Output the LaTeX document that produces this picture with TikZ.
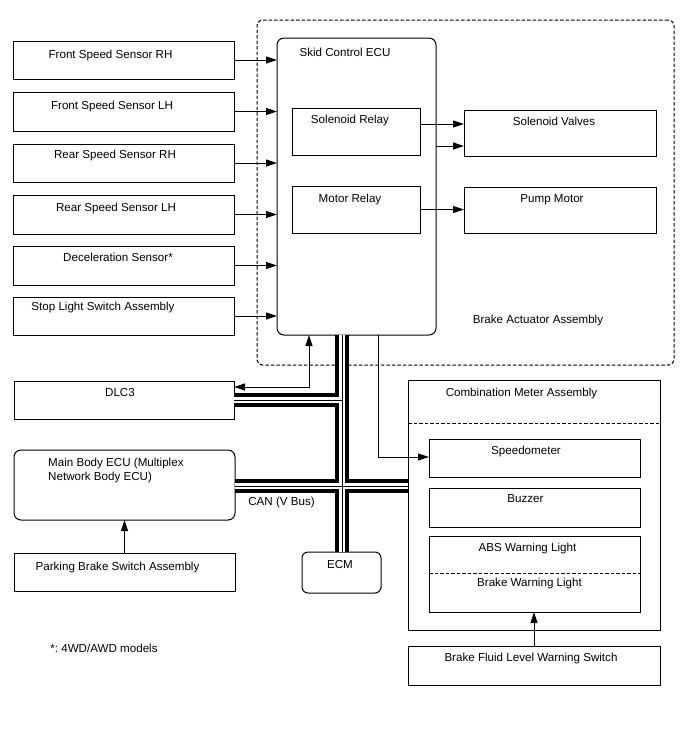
\documentclass[tikz,border=0pt]{standalone}
\usepackage{fontspec}
\setmainfont{Liberation Sans}
\usetikzlibrary{arrows.meta,fit}
\frenchspacing
\begin{document}
\begin{tikzpicture}[x=1pt,y=-1pt,
  box/.style={draw, line width=1pt, inner sep=0pt, outer sep=0pt},
  rbox/.style={box, rounded corners=7pt},
  dbox/.style={draw, line width=1pt, dash pattern=on 3.5pt off 2pt, rounded corners=6pt, inner sep=0pt},
  lbl/.style={anchor=base, inner sep=0pt, font=\fontsize{11.6}{13.5}\selectfont},
  arr/.style={line width=1pt, -{Triangle[length=11pt,width=7pt]}},
  arrb/.style={line width=1pt, {Triangle[length=11pt,width=7pt]}-{Triangle[length=11pt,width=7pt]}},
  dsh/.style={line width=1pt, dash pattern=on 3.5pt off 2pt}]
\fill[white] (0,0) rectangle (688,755);
\useasboundingbox (0,0) rectangle (688,755);

% Brake actuator assembly (dashed)
\node[dbox, fit={(257,20) (674,365)}] (baa) {};
\node[lbl] (baat) at (538,323) {Brake Actuator Assembly};

% Skid control ECU
\node[rbox, fit={(277,38) (436,335)}] (ecu) {};
\node[lbl] (ecut) at (345,56.5) {Skid Control ECU};
\node[box, fit={(292,108) (420,155)}] (sr) {};
\node[lbl] (srt) at (350,123) {Solenoid Relay};
\node[box, fit={(292,186) (420,233)}] (mr) {};
\node[lbl] (mrt) at (350,202) {Motor Relay};

\node[box, fit={(464,110) (656,156)}] (sv) {};
\node[lbl] (svt) at (554,125.5) {Solenoid Valves};
\node[box, fit={(464,187) (656,233)}] (pm) {};
\node[lbl] (pmt) at (552,202) {Pump Motor};

% Left sensors
\node[box, fit={(13,41) (234,79)}] (s1) {};
\node[lbl] (s1t) at (110.5,58) {Front Speed Sensor RH};
\node[box, fit={(13,92) (234,131)}] (s2) {};
\node[lbl] (s2t) at (112,109) {Front Speed Sensor LH};
\node[box, fit={(13,144) (234,182)}] (s3) {};
\node[lbl] (s3t) at (115,158.5) {Rear Speed Sensor RH};
\node[box, fit={(13,195) (234,234)}] (s4) {};
\node[lbl] (s4t) at (116,211) {Rear Speed Sensor LH};
\node[box, fit={(13,246) (234,285)}] (s5) {};
\node[lbl] (s5t) at (118,261) {Deceleration Sensor*};
\node[box, fit={(13,297) (234,335)}] (s6) {};
\node[lbl] (s6t) at (103,310) {Stop Light Switch Assembly};

\foreach \s in {s1,s2,s3,s4,s5,s6}
  \draw[arr] (\s.east) -- (\s.east -| ecu.west);

% outputs
\coordinate (o1) at (0,124);
\coordinate (o2) at (0,146);
\draw[arr] (sr.east |- o1) -- (sv.west |- o1);
\draw[arr] (ecu.east |- o2) -- (sv.west |- o2);
\draw[arr] (mr.east) -- (mr.east -| pm.west);

% DLC3
\node[box, fit={(14,381) (234,419)}] (dlc) {};
\node[lbl] (dlct) at (120,396.5) {DLC3};

% Main body ECU
\node[rbox, fit={(14,450) (235,520)}] (mb) {};
\node[lbl, anchor=base west] (mbt1) at (48,466.5) {Main Body ECU (Multiplex};
\node[lbl, anchor=base west] (mbt2) at (48,480) {Network Body ECU)};
\node[box, fit={(14,553) (235,591)}] (pb) {};
\node[lbl] (pbt) at (117.5,570) {Parking Brake Switch Assembly};
\draw[arr] (pb.north) -- (pb.north |- mb.south);

% ECM
\node[rbox, rounded corners=6pt, fit={(302,552) (381,593)}] (ecm) {};
\node[lbl] (ecmt) at (340,568) {ECM};

% Combination meter
\node[box, fit={(408,380) (660,630)}] (cm) {};
\node[lbl] (cmt) at (521.5,396.5) {Combination Meter Assembly};
\draw[dsh] (cm.west |- 0,423) -- (cm.east |- 0,423);
\node[box, fit={(429,439) (640,477)}] (spd) {};
\node[lbl] (spdt) at (526,454) {Speedometer};
\node[box, fit={(429,488) (640,527)}] (bz) {};
\node[lbl] (bzt) at (525.5,502.5) {Buzzer};
\node[box, fit={(429,536) (640,612)}] (abs) {};
\draw[dsh] (abs.west |- 0,573) -- (abs.east |- 0,573);
\node[lbl] (abst) at (527.5,551) {ABS Warning Light};
\node[lbl] (bwt) at (529.5,586.5) {Brake Warning Light};
\node[box, fit={(408,646) (660,685)}] (bf) {};
\node[lbl] (bft) at (531,661.5) {Brake Fluid Level Warning Switch};
\draw[arr] (bf.north) -- (bf.north |- abs.south);

% CAN bus
\node[lbl] (cant) at (281.5,505) {CAN (V Bus)};
\coordinate (busx) at (342,0);
\coordinate (dlcy) at (0,400);
\coordinate (mby) at (0,486);
\foreach \w/\c in {13.5pt/black, 6.2pt/white, 0.9pt/black}{
  \draw[line width=\w, \c]
    (busx |- ecu.south) -- (busx |- ecm.north)
    (dlc.east |- dlcy) -- (busx |- dlcy)
    (mb.east |- mby) -- (cm.west |- mby);
}

% ECU to DLC3 and speedometer
\coordinate (dt) at (309,387);
\draw[arrb] (dt |- ecu.south) -- (dt) -- (dlc.east |- dt);
\coordinate (st) at (378,457);
\draw[arr] (st |- ecu.south) -- (st) -- (spd.west |- st);

% footnote
\node[lbl] (fn) at (104,652.5) {*: 4WD/AWD models};
\end{tikzpicture}
\end{document}
